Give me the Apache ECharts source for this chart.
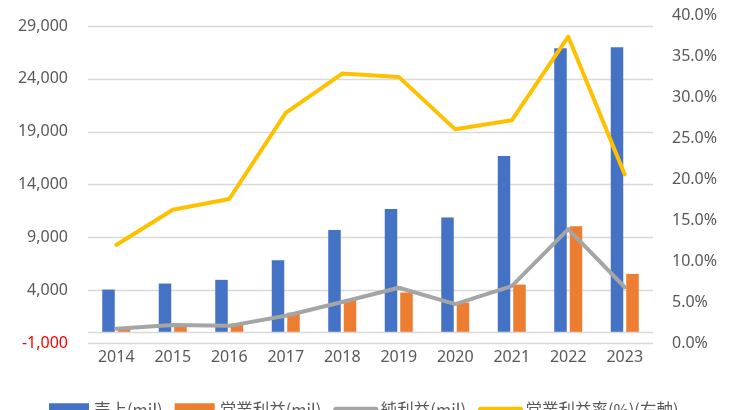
<!DOCTYPE html>
<html>
<head>
<meta charset="utf-8">
<script src="https://cdn.jsdelivr.net/npm/echarts@6/dist/echarts.min.js"></script>
<style>html,body{margin:0;padding:0;background:#fff;}#c{width:730px;height:410px;}</style>
</head>
<body>
<div id="c"></div>
<script>
const years = ['2014','2015','2016','2017','2018','2019','2020','2021','2022','2023'];
const sales = [4080, 4650, 5000, 6850, 9700, 11700, 10900, 16700, 26900, 27000];
const opProfit = [490, 760, 880, 1900, 3150, 3800, 2850, 4550, 10060, 5560];
const netProfit = [380, 720, 650, 1600, 2900, 4250, 2700, 4400, 9800, 4300];
const opMargin = [12.0, 16.3, 17.6, 28.1, 32.9, 32.5, 26.1, 27.2, 37.4, 20.6];
const names = ['売上(mil)', '営業利益(mil)', '純利益(mil)', '営業利益率(%)(右軸)'];

const chart = echarts.init(document.getElementById('c'), null, {renderer: 'canvas'});
const numFont = 'Noto Sans';
const txt = '#595959';
chart.setOption({
  animation: false,
  color: ['#4472C4', '#ED7D31', '#A5A5A5', '#FFC000'],
  grid: {left: 88, right: 77, top: 15.4, bottom: 66.7, containLabel: false},
  legend: {
    data: [
      {name: names[0], icon: 'rect'},
      {name: names[1], icon: 'rect'},
      {name: names[2], itemStyle: {opacity: 0}},
      {name: names[3], itemStyle: {opacity: 0}}
    ],
    left: 49, top: 401, padding: 0,
    itemWidth: 40, itemHeight: 12, itemGap: 12,
    lineStyle: {width: 5, cap: 'round'},
    textStyle: {fontFamily: 'Noto Sans CJK JP', fontSize: 16.5, color: txt}
  },
  xAxis: {
    type: 'category',
    data: years,
    axisLine: {show: false},
    axisTick: {show: false},
    axisLabel: {fontFamily: numFont, fontSize: 16, color: txt, margin: 6}
  },
  yAxis: [
    {
      type: 'value', min: -1000, max: 30000, interval: 5000,
      axisLine: {show: false}, axisTick: {show: false},
      axisLabel: {
        fontFamily: numFont, fontSize: 16, margin: 20, showMaxLabel: false,
        color: function (v) { return v < 0 ? '#FF0000' : txt; },
        formatter: function (v) { return v.toLocaleString('en-US'); }
      },
      splitLine: {show: true, showMaxLine: false, lineStyle: {color: '#d9d9d9', width: 1.3}}
    },
    {
      type: 'value', min: 0, max: 40, interval: 5,
      axisLine: {show: false}, axisTick: {show: false},
      axisLabel: {
        fontFamily: numFont, fontSize: 16, margin: 19, color: txt,
        formatter: function (v) { return v.toFixed(1) + '%'; }
      },
      splitLine: {show: false}
    }
  ],
  series: [
    {
      name: names[0], type: 'bar', data: sales, barWidth: 12.5, barGap: '24%',
      markLine: {
        silent: true, symbol: ['none', 'none'], label: {show: false},
        lineStyle: {color: '#d9d9d9', type: 'solid', width: 1.3},
        data: [{yAxis: 0}]
      }
    },
    {name: names[1], type: 'bar', data: opProfit, barWidth: 12.5},
    {
      name: names[2], type: 'line', data: netProfit, symbol: 'none', z: 3,
      lineStyle: {width: 4, cap: 'round', join: 'round'}
    },
    {
      name: names[3], type: 'line', data: opMargin, yAxisIndex: 1, symbol: 'none', z: 4,
      lineStyle: {width: 4, cap: 'round', join: 'round'}
    }
  ]
});
</script>
</body>
</html>
